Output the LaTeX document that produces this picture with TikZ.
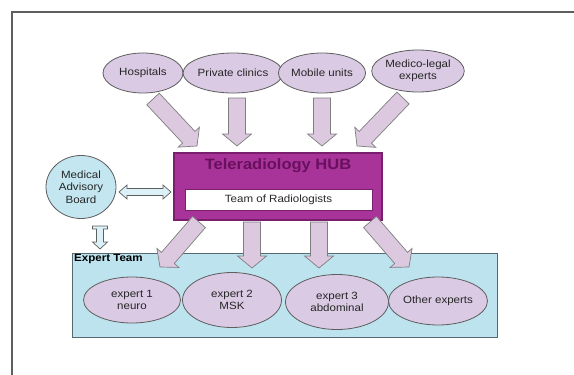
\documentclass[tikz,border=0pt]{standalone}
\usepackage{fontspec}
\setmainfont{Liberation Sans}[FakeStretch=1.1]
\usetikzlibrary{shapes.geometric,calc}
\definecolor{lilac}{HTML}{DACAE3}
\definecolor{arrlilac}{HTML}{DCC9E0}
\definecolor{edgegray}{HTML}{5E5E5E}
\definecolor{hubfill}{HTML}{A8349A}
\definecolor{hubedge}{HTML}{7A1E6E}
\definecolor{hubtext}{HTML}{6A0F5E}
\definecolor{lblue}{HTML}{C3E6F1}
\definecolor{teamblue}{HTML}{BDE3EE}
\definecolor{teamedge}{HTML}{556A70}
\newcommand\blk[2]{\draw[blkarrow] let \p1=(#1), \p2=(#2),
  \n1={atan2(\y2-\y1,\x2-\x1)}, \n2={veclen(\x2-\x1,\y2-\y1)} in
  [shift={(\p1)}, rotate=\n1]
  (0,8.5) -- ({\n2-12},8.5) -- ({\n2-12},14.5) -- (\n2,0) -- ({\n2-12},-14.5)
  -- ({\n2-12},-8.5) -- (0,-8.5) -- cycle;}
\tikzset{
  txt/.style={font=\fontsize{10.5}{12.5}\selectfont, align=center, text=black!85},
  topell/.style={ellipse, draw=edgegray, fill=lilac, line width=0.8pt, inner sep=0pt,
     minimum width=80, minimum height=40, txt},
  expell/.style={ellipse, draw=edgegray, fill=lilac, line width=0.8pt, inner sep=0pt, txt},
  blkarrow/.style={draw=edgegray!80, fill=arrlilac, line width=0.7pt, line join=miter},
  smallarrow/.style={draw=edgegray, fill=lblue!60, line width=0.7pt},
}
\begin{document}
\begin{tikzpicture}[x=1pt,y=-1pt]
\useasboundingbox (0,0) rectangle (574,375);
\fill[white] (0,0) rectangle (574,375);
% outer frame
\draw[edgegray, line width=1.3pt] (12,375) -- (12,12) -- (574,12);

% top sources
\node[topell] (hosp) at (143,73) {Hospitals};
\node[topell] (priv) at (233,73) {Private clinics};
\node[topell] (mob) at (322,73) {Mobile units};
\node[topell, minimum width=78, minimum height=42] (med) at (418,71) {Medico-legal\\experts};

% hub
\node[draw=hubedge, fill=hubfill, line width=1.5pt, minimum width=208, minimum height=67] (hub) at (278,186.5) {};
\node[font=\fontsize{15}{17}\selectfont\bfseries, text=hubtext] (hubt) at (278,166) {Teleradiology HUB};
\node[draw=hubedge, fill=white, line width=0.8pt, minimum width=187, minimum height=21, inner sep=0pt, txt] (team) at (278.5,199.5) {Team of Radiologists};

% arrows into hub
\coordinate (a1s) at (153,99);  \coordinate (a1e) at (197,146);
\coordinate (a2s) at (237,98);  \coordinate (a2e) at (237,146);
\coordinate (a3s) at (322,98);  \coordinate (a3e) at (322,146);
\coordinate (a4s) at (403,98);  \coordinate (a4e) at (357,146);
\blk{a1s}{a1e}
\blk{a2s}{a2e}
\blk{a3s}{a3e}
\blk{a4s}{a4e}

% medical advisory board
\node[ellipse, draw=edgegray, fill=lblue, line width=0.8pt, minimum width=70, minimum height=63, inner sep=0pt, txt] (mab) at (81,187) {Medical\\Advisory\\Board};

% expert team box
\node[draw=teamedge, fill=teamblue, line width=1pt, minimum width=425, minimum height=84, inner sep=0pt] (et) at (284.5,295) {};
\node[anchor=north west, font=\fontsize{10.5}{12}\selectfont\bfseries, inner sep=1pt] (etl) at (73,253) {Expert Team};

% experts
\node[expell, minimum width=97, minimum height=46] (e1) at (132,300) {expert 1\\neuro};
\node[expell, minimum width=99, minimum height=55] (e2) at (232,300) {expert 2\\MSK};
\node[expell, minimum width=103, minimum height=55] (e3) at (337,302) {expert 3\\abdominal};
\node[expell, minimum width=97, minimum height=48] (e4) at (438,301) {Other experts};

% arrows from hub to experts
\coordinate (b1s) at (199,222); \coordinate (b1e) at (160,267);
\coordinate (b2s) at (252,222); \coordinate (b2e) at (252,268);
\coordinate (b3s) at (319,222); \coordinate (b3e) at (319,268);
\coordinate (b4s) at (370,222); \coordinate (b4e) at (409,267);
\blk{b1s}{b1e}
\blk{b2s}{b2e}
\blk{b3s}{b3e}
\blk{b4s}{b4e}

% double arrow MAB <-> hub
\coordinate (d1) at (119,192);
\coordinate (d2) at (171,192);
\draw[smallarrow] (d1) -- ++(8,-7) -- ++(0,3.5) -- ($(d2)+(-8,-3.5)$) -- ++(0,-3.5) -- (d2)
  -- ++(-8,7) -- ++(0,-3.5) -- ($(d1)+(8,3.5)$) -- ++(0,3.5) -- cycle;

% MAB down arrow to expert team
\coordinate (v1) at (100,226);
\coordinate (v2) at (100,249);
\draw[smallarrow] ($(v1)+(-7.5,0)$) -- ($(v1)+(7.5,0)$) -- ++(0,3) -- ++(-4,0) -- ($(v2)+(3.5,-7)$)
  -- ++(4,0) -- (v2) -- ++(-7.5,-7) -- ++(4,0) -- ($(v1)+(-3.5,3)$) -- ++(-4,0) -- cycle;
\end{tikzpicture}
\end{document}
